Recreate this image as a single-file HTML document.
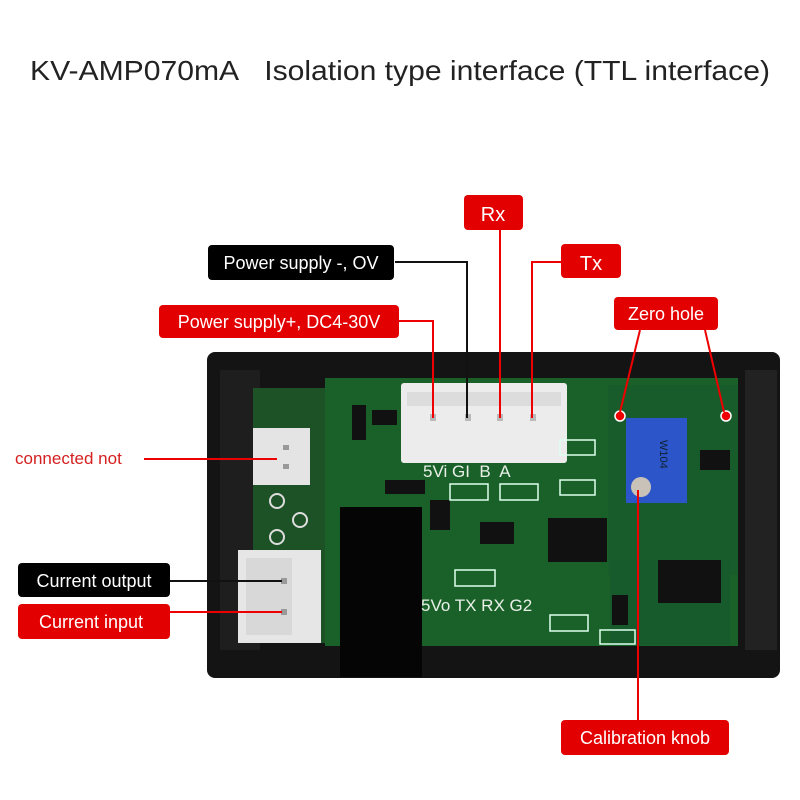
<!DOCTYPE html>
<html><head><meta charset="utf-8"><style>
html,body{margin:0;padding:0;background:#fff;width:800px;height:800px;overflow:hidden}
svg{display:block}
text{font-family:"Liberation Sans",sans-serif}
</style></head><body>
<svg width="800" height="800" viewBox="0 0 800 800" xmlns="http://www.w3.org/2000/svg">
<rect width="800" height="800" fill="#fff"/>
<text x="30" y="80" font-size="28" fill="#222" textLength="740" lengthAdjust="spacingAndGlyphs">KV-AMP070mA&#160;&#160;&#160;Isolation type interface (TTL interface)</text>

<!-- case -->
<rect x="207" y="352" width="573" height="326" rx="8" fill="#141414"/>
<rect x="220" y="370" width="40" height="280" fill="#1e1e1e"/>
<rect x="745" y="370" width="32" height="280" fill="#222"/>
<!-- left green board -->
<rect x="253" y="388" width="80" height="255" fill="#1c5226"/>
<!-- main board -->
<rect x="325" y="378" width="413" height="268" fill="#1a6129"/>
<rect x="608" y="385" width="130" height="190" fill="#185c2b"/>
<rect x="610" y="560" width="120" height="85" fill="#175a2c"/>
<!-- black block -->
<rect x="340" y="507" width="82" height="170" fill="#050505"/>
<!-- white 4 pin connector -->
<rect x="401" y="383" width="166" height="80" rx="3" fill="#ececec"/>
<rect x="407" y="392" width="154" height="14" fill="#dcdcdc"/>
<g fill="#b9b9b9"><rect x="430" y="414" width="6" height="7"/><rect x="465" y="414" width="6" height="7"/><rect x="497" y="414" width="6" height="7"/><rect x="530" y="414" width="6" height="7"/></g>
<!-- silkscreen labels -->
<text x="423" y="477" font-family="Liberation Serif" font-size="17" fill="#e8f0e8">5Vi GI&#160; B&#160; A</text>
<text x="421" y="611" font-family="Liberation Serif" font-size="17" fill="#e8f0e8">5Vo TX RX G2</text>
<!-- left connectors -->
<rect x="253" y="428" width="57" height="57" fill="#e4e4e4"/>
<rect x="283" y="445" width="6" height="5" fill="#999"/><rect x="283" y="464" width="6" height="5" fill="#999"/>
<rect x="238" y="550" width="83" height="93" fill="#e6e6e6"/>
<rect x="246" y="558" width="46" height="77" fill="#d8d8d8"/>
<rect x="281" y="578" width="6" height="6" fill="#999"/><rect x="281" y="609" width="6" height="6" fill="#999"/>
<g fill="none" stroke="#ddd" stroke-width="2"><circle cx="277" cy="501" r="7"/><circle cx="300" cy="520" r="7"/><circle cx="277" cy="537" r="7"/></g>
<!-- ICs and parts -->
<rect x="548" y="518" width="59" height="44" fill="#111"/>
<rect x="658" y="560" width="63" height="43" fill="#111"/>
<rect x="480" y="522" width="34" height="22" fill="#111"/>
<rect x="352" y="405" width="14" height="35" fill="#111"/>
<rect x="372" y="410" width="25" height="15" fill="#111"/>
<rect x="385" y="480" width="40" height="14" fill="#111"/>
<rect x="430" y="500" width="20" height="30" fill="#111"/>
<rect x="612" y="595" width="16" height="30" fill="#111"/>
<rect x="700" y="450" width="30" height="20" fill="#111"/>
<g fill="none" stroke="#dfe" stroke-width="1.5"><rect x="450" y="484" width="38" height="16"/><rect x="500" y="484" width="38" height="16"/><rect x="560" y="440" width="35" height="15"/><rect x="560" y="480" width="35" height="15"/><rect x="455" y="570" width="40" height="16"/><rect x="550" y="615" width="38" height="16"/><rect x="600" y="630" width="35" height="14"/></g>
<!-- blue pot -->
<rect x="626" y="418" width="61" height="85" fill="#2b55c8"/>
<circle cx="641" cy="487" r="10" fill="#c9c2b8"/>
<text x="660" y="440" font-size="11" fill="#123" transform="rotate(90 660 440)">W104</text>
<!-- zero holes -->
<circle cx="620" cy="416" r="5" fill="#e00" stroke="#fff" stroke-width="1.5"/>
<circle cx="726" cy="416" r="5" fill="#e00" stroke="#fff" stroke-width="1.5"/>

<!-- connectors -->
<g fill="none" stroke-width="2">
<polyline points="395,262 467,262 467,418" stroke="#111"/>
<line x1="500" y1="230" x2="500" y2="418" stroke="#e00"/>
<polyline points="562,262 532,262 532,418" stroke="#e00"/>
<polyline points="398,321 433,321 433,418" stroke="#e00"/>
<line x1="640" y1="330" x2="620" y2="412" stroke="#e00"/>
<line x1="705" y1="330" x2="724" y2="412" stroke="#e00"/>
<line x1="638" y1="490" x2="638" y2="720" stroke="#e00"/>
<line x1="144" y1="459" x2="277" y2="459" stroke="#e00"/>
<line x1="170" y1="581" x2="282" y2="581" stroke="#111"/>
<line x1="170" y1="612" x2="282" y2="612" stroke="#e00"/>
</g>

<!-- label boxes -->
<rect x="208" y="245" width="186" height="35" rx="4" fill="#000"/>
<text x="301" y="269" text-anchor="middle" font-size="18" fill="#fff">Power supply -, OV</text>
<rect x="464" y="195" width="59" height="35" rx="4" fill="#e30000"/>
<text x="493" y="221" text-anchor="middle" font-size="20" fill="#fff">Rx</text>
<rect x="561" y="244" width="60" height="34" rx="4" fill="#e30000"/>
<text x="591" y="270" text-anchor="middle" font-size="20" fill="#fff">Tx</text>
<rect x="159" y="305" width="240" height="33" rx="4" fill="#e30000"/>
<text x="279" y="328" text-anchor="middle" font-size="18" fill="#fff">Power supply+, DC4-30V</text>
<rect x="614" y="297" width="104" height="33" rx="4" fill="#e30000"/>
<text x="666" y="320" text-anchor="middle" font-size="18" fill="#fff">Zero hole</text>
<text x="15" y="464" font-size="17" fill="#d42020">connected not</text>
<rect x="18" y="563" width="152" height="34" rx="4" fill="#000"/>
<text x="94" y="587" text-anchor="middle" font-size="18" fill="#fff">Current output</text>
<rect x="18" y="604" width="152" height="35" rx="4" fill="#e30000"/>
<text x="91" y="628" text-anchor="middle" font-size="18" fill="#fff">Current input</text>
<rect x="561" y="720" width="168" height="35" rx="4" fill="#e30000"/>
<text x="645" y="744" text-anchor="middle" font-size="18" fill="#fff">Calibration knob</text>
</svg>
</body></html>
